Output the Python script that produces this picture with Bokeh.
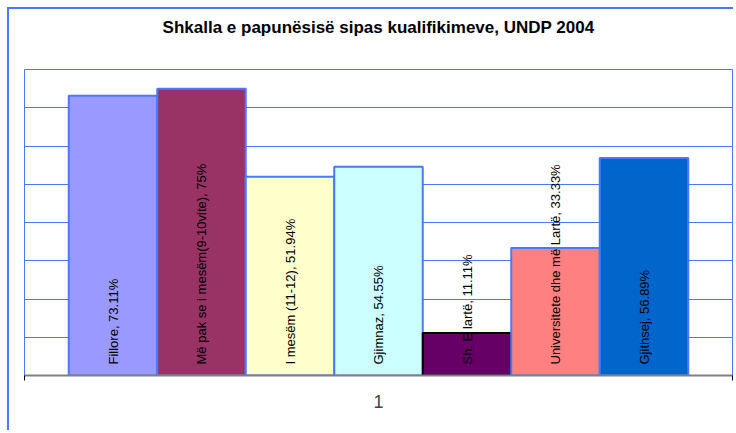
from bokeh.plotting import figure
from bokeh.models import Range1d, FixedTicker, ColumnDataSource, Title
from bokeh.core.properties import value
from bokeh.embed import file_html
from bokeh.resources import INLINE
import math

# ---- data ----
title_text = "Shkalla e papunësisë sipas kualifikimeve, UNDP 2004"
categories = ["Fillore", "Më pak se i mesëm(9-10vite)", "I mesëm (11-12)", "Gjimnaz",
              "Sh. E lartë", "Universitete dhe më Lartë", "Gjithsej"]
values = [73.11, 75, 51.94, 54.55, 11.11, 33.33, 56.89]
value_labels = ["73.11%", "75%", "51.94%", "54.55%", "11.11%", "33.33%", "56.89%"]
group_label = "1"
colors = ["#9999FF", "#993366", "#FFFFCC", "#CCFFFF", "#660066", "#FF8080", "#0066CC"]
outlines = ["#4A78FF", "#4A78FF", "#4A78FF", "#4A78FF", "#000000", "#4A78FF", "#4A78FF"]

idx = list(range(len(categories)))
labels = [f"{c}, {v}" for c, v in zip(categories, value_labels)]
src = ColumnDataSource(dict(x=idx, top=values, color=colors, line=outlines, label=labels,
                            zero=[0] * len(idx)))

BLUE = "#4A78FF"
YMAX = 80

p = figure(width=726, height=423, output_backend="svg", toolbar_location=None,
           x_range=Range1d(-1, len(idx)), y_range=Range1d(0, YMAX),
           min_border_left=15, min_border_right=3, min_border_top=60, min_border_bottom=57,
           title=title_text)
p.styles = {"border-left": f"2px solid {BLUE}", "border-top": f"2px solid {BLUE}",
            "margin-left": "7px", "margin-top": "7px"}

p.title.align = "center"
p.title.text_font = "Liberation Sans"
p.title.text_font_size = "17px"
p.title.text_font_style = "bold"
p.title.text_color = "black"
p.title.standoff = 0

# empty spacer title between the frame and the main title
spacer = Title(text=" ", text_font_size="1px", standoff=30)
p.add_layout(spacer, "above")

p.outline_line_color = BLUE
p.outline_line_width = 1
p.background_fill_color = "white"
p.border_fill_color = "white"

p.vbar(x="x", top="top", bottom=0, width=1, source=src, fill_color="color",
       line_color="line", line_width=2)

p.text(x="x", y="zero", text="label", source=src, angle=math.pi / 2,
       text_align="left", text_baseline="middle", y_offset=-11,
       text_font=value("Liberation Sans"), text_font_size="13px", text_color="black")

mid = (len(idx) - 1) / 2

p.yaxis.visible = False
p.ygrid.ticker = FixedTicker(ticks=[10, 20, 30, 40, 50, 60, 70])
p.ygrid.grid_line_color = BLUE
p.ygrid.grid_line_width = 1
p.xgrid.visible = False

p.xaxis.ticker = FixedTicker(ticks=[mid], minor_ticks=[-1, len(idx)])
p.xaxis.major_label_overrides = {mid: group_label}
p.xaxis.major_tick_out = 0
p.xaxis.major_tick_in = 0
p.xaxis.minor_tick_out = 5
p.xaxis.minor_tick_in = 0
p.xaxis.minor_tick_line_color = "black"
p.xaxis.axis_line_color = "#808080"
p.xaxis.axis_line_width = 2
p.xaxis.major_label_text_font = "Liberation Sans"
p.xaxis.major_label_text_font_size = "18px"
p.xaxis.major_label_standoff = 14

open("out.html", "w").write(file_html(p, INLINE))
